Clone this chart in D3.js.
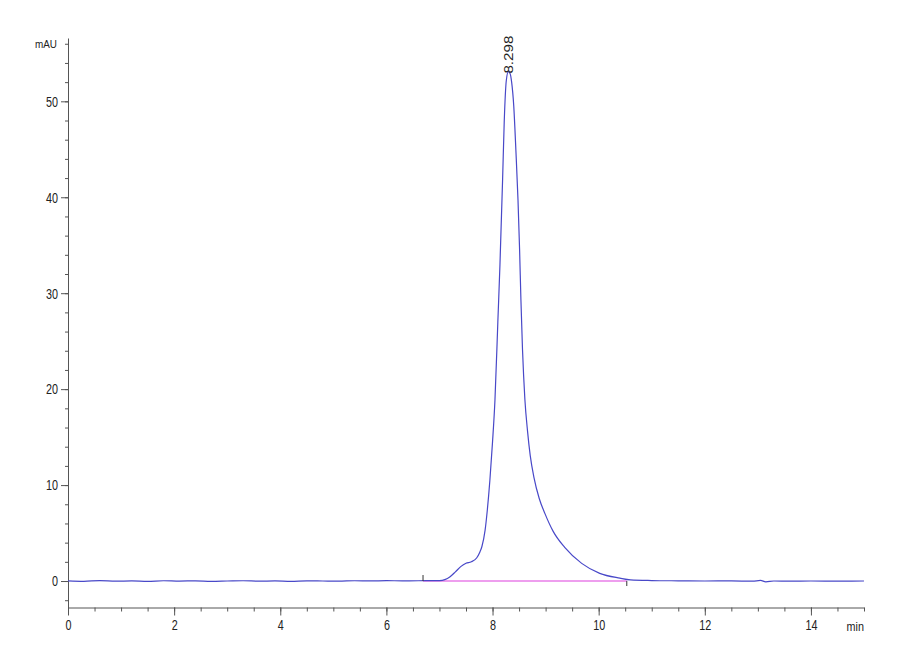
<!DOCTYPE html>
<html>
<head>
<meta charset="utf-8">
<script src="https://cdn.jsdelivr.net/npm/d3@7"></script>
<style>
  body { margin: 0; background: #fff; }
  svg text { font-family: "Liberation Sans", Arial, sans-serif; }
</style>
</head>
<body>
<div id="chart"></div>
<script>
// retention time (min) and absorbance (mAU)
const times = [0, 0.3, 0.6, 0.9, 1.2, 1.5, 1.8, 2.1, 2.4, 2.7, 3.0, 3.3, 3.6, 3.9, 4.2, 4.5, 4.8, 5.1, 5.4, 5.7, 6.0, 6.3, 6.6, 6.9,
  7.0, 7.1, 7.2, 7.3, 7.4, 7.5, 7.6, 7.7, 7.76, 7.8, 7.86, 7.9, 7.95, 8.0, 8.046, 8.1, 8.14, 8.19, 8.22, 8.26, 8.298,
  8.33, 8.36, 8.40, 8.44, 8.48, 8.51, 8.535, 8.565, 8.61, 8.66, 8.71, 8.78, 8.88, 8.99, 9.14, 9.36, 9.68, 10.02, 10.4, 10.6, 11.0,
  11.5, 12.0, 12.5, 12.9, 13.05, 13.15, 13.3, 13.6, 14.0, 14.5, 15.0];
const absorbance = [0.02, -0.03, 0.04, -0.02, 0.01, -0.04, 0.03, -0.01, 0.02, -0.03, 0.0, 0.03, -0.02, 0.01, -0.03, 0.02, 0.0, -0.02, 0.03, 0.01, 0.04, 0.02, 0.03, 0.04,
  0.05, 0.15, 0.45, 0.95, 1.5, 1.85, 2.0, 2.4, 3.0, 3.6, 5.3, 7.3, 10.5, 14.5, 18.9, 27.0, 33.0, 41.9, 47.8, 52.2, 53.1,
  52.9, 52.0, 49.5, 44.9, 39.7, 34.5, 29.3, 24.1, 18.9, 15.6, 13.1, 10.8, 8.6, 7.0, 5.2, 3.5, 1.84, 0.8, 0.3, 0.12, 0.05,
  0.02, 0.0, 0.01, -0.02, 0.06, -0.08, 0.0, -0.02, 0.0, -0.01, 0.0];

const xMajorTicks = [0, 2, 4, 6, 8, 10, 12, 14];
const yMajorTicks = [0, 10, 20, 30, 40, 50];
const baselineStart = 6.69, baselineEnd = 10.53;
const peakTime = 8.298, peakHeight = 53.1, peakLabel = "8.298";

const width = 900, height = 660;
const narrow = 0.72;   // squeeze glyphs to mimic the condensed instrument font
const svg = d3.select('#chart').append('svg')
  .attr('width', width)
  .attr('height', height);

const xScale = d3.scaleLinear().domain([0, 15]).range([68, 864]);
const yScale = d3.scaleLinear().domain([-2.76, 56.6]).range([607.5, 38]);

const axisColor = '#555';

// minor ticks first, majors on top
const xMinor = svg.append('g')
  .attr('transform', `translate(0, ${yScale(-2.76)})`)
  .call(d3.axisBottom(xScale).tickValues(d3.range(0, 15.01, 0.5)).tickSize(4).tickFormat(''));
const xAxis = svg.append('g')
  .attr('transform', `translate(0, ${yScale(-2.76)})`)
  .call(d3.axisBottom(xScale).tickValues(xMajorTicks).tickSize(8).tickSizeOuter(0).tickPadding(4));

const yMinor = svg.append('g')
  .attr('transform', `translate(${xScale(0)}, 0)`)
  .call(d3.axisLeft(yScale).tickValues(d3.range(-2, 56.1, 2)).tickSize(3).tickFormat(''));
const yAxis = svg.append('g')
  .attr('transform', `translate(${xScale(0)}, 0)`)
  .call(d3.axisLeft(yScale).tickValues(yMajorTicks).tickSize(7).tickSizeOuter(0).tickPadding(3));

[xMinor, yMinor].forEach(a => a.select('.domain').remove());
[xMinor, xAxis, yMinor, yAxis].forEach(a => {
  a.selectAll('line, path').attr('stroke', axisColor);
});
[xAxis, yAxis].forEach(a => {
  a.selectAll('text')
    .style('font-size', '15px')
    .attr('fill', '#222')
    .attr('x', function() { return (+d3.select(this).attr('x') || 0) / narrow; })
    .attr('transform', `scale(${narrow}, 1)`);
});

svg.append('text')
  .attr('transform', 'translate(57, 48) scale(0.9, 1)')
  .attr('text-anchor', 'end')
  .style('font-size', '11px')
  .attr('fill', '#222')
  .text('mAU');

svg.append('text')
  .attr('transform', 'translate(864, 631) scale(0.9, 1)')
  .attr('text-anchor', 'end')
  .style('font-size', '12px')
  .attr('fill', '#222')
  .text('min');

// integration baseline
svg.append('line')
  .attr('x1', xScale(baselineStart)).attr('x2', xScale(baselineEnd))
  .attr('y1', yScale(0)).attr('y2', yScale(0))
  .attr('stroke', '#e87ee8')
  .attr('stroke-width', 1.4);

const points = times.map((t, i) => [t, absorbance[i]]);
const line = d3.line()
  .x(d => xScale(d[0]))
  .y(d => yScale(d[1]))
  .curve(d3.curveMonotoneX);

svg.append('path')
  .datum(points)
  .attr('fill', 'none')
  .attr('stroke', '#4848c8')
  .attr('stroke-width', 1.2)
  .attr('d', line);

// start / end markers of the integration
svg.append('line')
  .attr('x1', xScale(baselineStart)).attr('x2', xScale(baselineStart))
  .attr('y1', yScale(0)).attr('y2', yScale(0) - 6)
  .attr('stroke', '#333');
svg.append('line')
  .attr('x1', xScale(baselineEnd)).attr('x2', xScale(baselineEnd))
  .attr('y1', yScale(0)).attr('y2', yScale(0) + 5)
  .attr('stroke', '#333');

// peak label, rotated to read upwards
svg.append('text')
  .attr('transform', `translate(${xScale(peakTime) + 4.5}, ${yScale(peakHeight) + 2}) rotate(-90)`)
  .style('font-size', '12.5px')
  .attr('textLength', 38)
  .attr('lengthAdjust', 'spacingAndGlyphs')
  .attr('fill', '#222')
  .text(peakLabel);
</script>
</body>
</html>
